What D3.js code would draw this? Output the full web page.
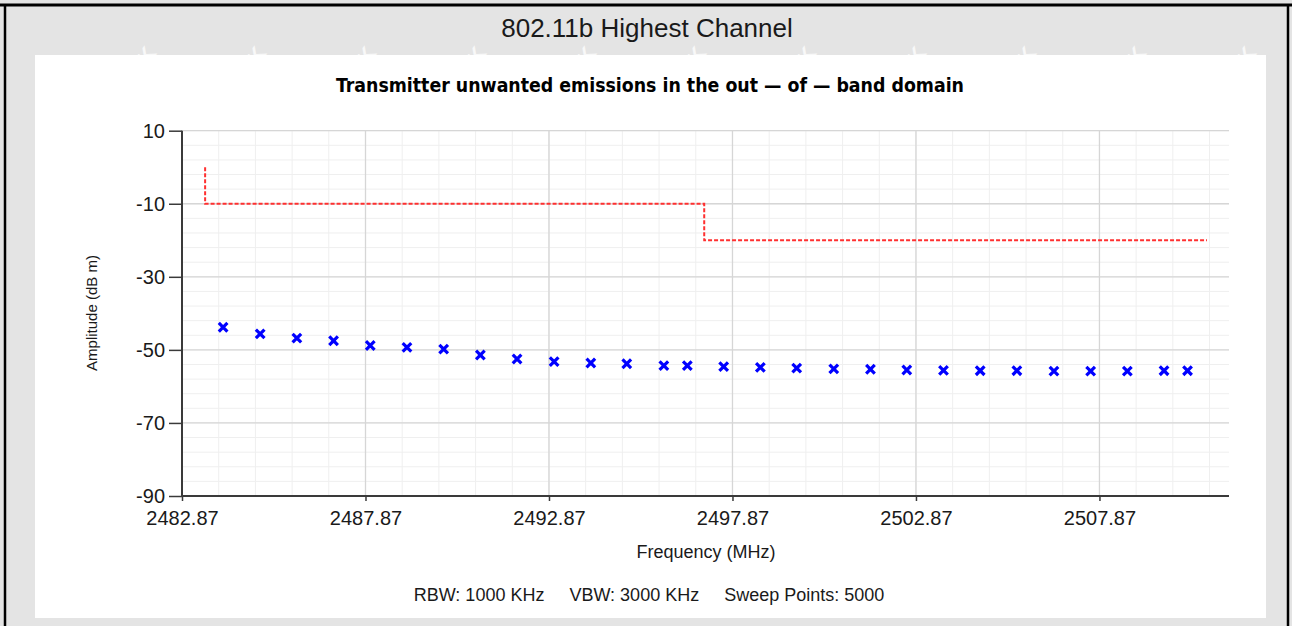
<!DOCTYPE html>
<html>
<head>
<meta charset="utf-8">
<script src="https://cdn.jsdelivr.net/npm/d3@7/dist/d3.min.js"></script>
<style>
  html, body { margin: 0; padding: 0; background: #e4e4e4; }
  svg { display: block; }
  text { font-family: "Liberation Sans", Arial, sans-serif; fill: #1a1a1a; }
</style>
</head>
<body>
<svg id="chart" width="1292" height="626"></svg>
<script>
// Measured emission peaks (MHz, dBm)
const freqs = [2483.99, 2485.00, 2486.00, 2487.00, 2488.00, 2489.00, 2490.00, 2491.00,
               2492.00, 2493.01, 2494.01, 2494.99, 2496.00, 2496.64, 2497.63, 2498.63,
               2499.62, 2500.63, 2501.63, 2502.62, 2503.62, 2504.62, 2505.62, 2506.63,
               2507.63, 2508.63, 2509.63, 2510.27];
const amps  = [-43.8, -45.6, -46.8, -47.5, -48.8, -49.3, -49.8, -51.4,
               -52.5, -53.2, -53.6, -53.8, -54.3, -54.3, -54.6, -54.8,
               -55.0, -55.2, -55.3, -55.5, -55.6, -55.7, -55.7, -55.8,
               -55.8, -55.8, -55.7, -55.7];

// Limit mask (step line)
const limitFreq = [2483.5, 2483.5, 2497.1, 2497.1, 2510.8];
const limitAmp  = [0, -10, -10, -20, -20];

// Axis ticks
const xTicks = [2482.87, 2487.87, 2492.87, 2497.87, 2502.87, 2507.87];
const yTicks = [10, -10, -30, -50, -70, -90];
const xDomain = [2482.87, 2511.4];
const yDomain = [-90, 10];

const titleText = "802.11b Highest Channel";
const subtitleText = "Transmitter unwanted emissions in the out \u2014 of \u2014 band domain";
const xLabel = "Frequency (MHz)";
const yLabel = "Amplitude (dB m)";
const footer = "RBW: 1000 KHz     VBW: 3000 KHz     Sweep Points: 5000";

const W = 1292, H = 626;
const svg = d3.select("#chart");

// Page background with faint repeated watermark (only marks that fit the page)
svg.append("rect").attr("width", W).attr("height", H).attr("fill", "#e4e4e4");
const wm = svg.append("g");
for (let row = 0, wy = 10; wy < H + 100; wy += 118, row++) {
  for (let wx = -60 + (row % 2) * 55; wx < W + 60; wx += 110) {
    const t = wm.append("text")
      .attr("transform", `translate(${wx},${wy}) rotate(-55)`)
      .attr("font-size", 22).attr("font-weight", "bold")
      .style("fill", "#ffffff").style("fill-opacity", 0.75)
      .text("WALTEK");
    const b = t.node().getBoundingClientRect();
    if (b.left < 0 || b.top < 0 || b.right > W || b.bottom > H) t.remove();
  }
}

// Frame lines
svg.append("line").attr("x1", 0).attr("x2", W).attr("y1", 5).attr("y2", 5)
  .attr("stroke", "#000").attr("stroke-width", 3);
svg.append("line").attr("x1", 5).attr("x2", 5).attr("y1", 5).attr("y2", H)
  .attr("stroke", "#000").attr("stroke-width", 2.5);
svg.append("line").attr("x1", 1288).attr("x2", 1288).attr("y1", 5).attr("y2", H)
  .attr("stroke", "#000").attr("stroke-width", 2.5);

// Title above the panel
svg.append("text").attr("x", 647).attr("y", 37).attr("text-anchor", "middle")
  .attr("font-size", 26).text(titleText);

// White chart panel
svg.append("rect").attr("x", 35).attr("y", 55).attr("width", 1231).attr("height", 563)
  .attr("fill", "#ffffff");

// Subtitle
svg.append("text").attr("x", 650).attr("y", 92).attr("text-anchor", "middle")
  .attr("font-size", 20).attr("font-weight", "bold")
  .style("font-family", "'Liberation Sans Narrow', 'DejaVu Sans Condensed', sans-serif")
  .style("fill", "#000")
  .attr("textLength", 628).attr("lengthAdjust", "spacingAndGlyphs")
  .text(subtitleText);

// Plot geometry
const pL = 182, pR = 1229, pT = 130.7, pB = 496;
const x = d3.scaleLinear().domain(xDomain).range([pL, pR]);
const y = d3.scaleLinear().domain(yDomain).range([pB, pT]);

// Grid: minor every 1 MHz / 4 dB, major every 5 MHz / 20 dB
const grid = svg.append("g");
const minorX = d3.range(0, 29).map(i => xDomain[0] + i).filter(v => v <= xDomain[1]);
const minorY = d3.range(0, 26).map(i => yDomain[0] + i * 4);
grid.append("g").selectAll("line").data(minorX).join("line")
  .attr("x1", d => x(d)).attr("x2", d => x(d)).attr("y1", pT).attr("y2", pB)
  .attr("stroke", "#efefef").attr("stroke-width", 1);
grid.append("g").selectAll("line").data(minorY).join("line")
  .attr("x1", pL).attr("x2", pR).attr("y1", d => y(d)).attr("y2", d => y(d))
  .attr("stroke", "#efefef").attr("stroke-width", 1);
grid.append("g").selectAll("line").data(xTicks.slice(1)).join("line")
  .attr("x1", d => x(d)).attr("x2", d => x(d)).attr("y1", pT).attr("y2", pB)
  .attr("stroke", "#d6d6d6").attr("stroke-width", 1.3);
grid.append("g").selectAll("line").data(yTicks.slice(0, -1)).join("line")
  .attr("x1", pL).attr("x2", pR).attr("y1", d => y(d)).attr("y2", d => y(d))
  .attr("stroke", "#d6d6d6").attr("stroke-width", 1.3);

// Limit line
const limitData = limitFreq.map((f, i) => [f, limitAmp[i]]);
svg.append("path").datum(limitData)
  .attr("d", d3.line().x(d => x(d[0])).y(d => y(d[1])))
  .attr("fill", "none").attr("stroke", "#ff3030").attr("stroke-width", 2)
  .attr("stroke-dasharray", "4,2");

// Emission markers
const pts = freqs.map((f, i) => [f, amps[i]]);
svg.append("g").selectAll("path").data(pts).join("path")
  .attr("transform", d => `translate(${x(d[0])},${y(d[1])})`)
  .attr("d", "M-4.3,-4.3L4.3,4.3M-4.3,4.3L4.3,-4.3")
  .attr("stroke", "#0000ff").attr("stroke-width", 3.2).attr("fill", "none");

// Axes
const axisColor = "#3a3a3a";
const gAxisY = svg.append("g").attr("transform", `translate(${pL},0)`)
  .call(d3.axisLeft(y).tickValues(yTicks).tickFormat(d => String(d))
    .tickSize(13).tickSizeOuter(0).tickPadding(4));
const gAxisX = svg.append("g").attr("transform", `translate(0,${pB})`)
  .call(d3.axisBottom(x).tickValues(xTicks).tickFormat(d => d.toFixed(2))
    .tickSize(5).tickSizeOuter(0).tickPadding(10));
[gAxisY, gAxisX].forEach(g => {
  g.select(".domain").attr("stroke", axisColor).attr("stroke-width", 2);
  g.selectAll(".tick line").attr("stroke", axisColor).attr("stroke-width", 1.5);
  g.selectAll(".tick text").attr("font-size", 20).style("fill", "#1a1a1a")
    .style("font-family", "'Liberation Sans', Arial, sans-serif");
});
// Join the two axis lines at the corner
gAxisX.select(".domain").attr("d", `M${pL - 1},0H${pR}`);
gAxisY.select(".domain").attr("d", `M0,${pT}V${pB + 1}`);

// Axis titles
svg.append("text").attr("transform", "translate(97,313) rotate(-90)")
  .attr("text-anchor", "middle").attr("font-size", 15).text(yLabel);
svg.append("text").attr("x", 706).attr("y", 558).attr("text-anchor", "middle")
  .attr("font-size", 18).text(xLabel);

// Footer with sweep settings
svg.append("text").attr("x", 649).attr("y", 601).attr("text-anchor", "middle")
  .attr("font-size", 18).style("white-space", "pre").text(footer);
</script>
</body>
</html>
